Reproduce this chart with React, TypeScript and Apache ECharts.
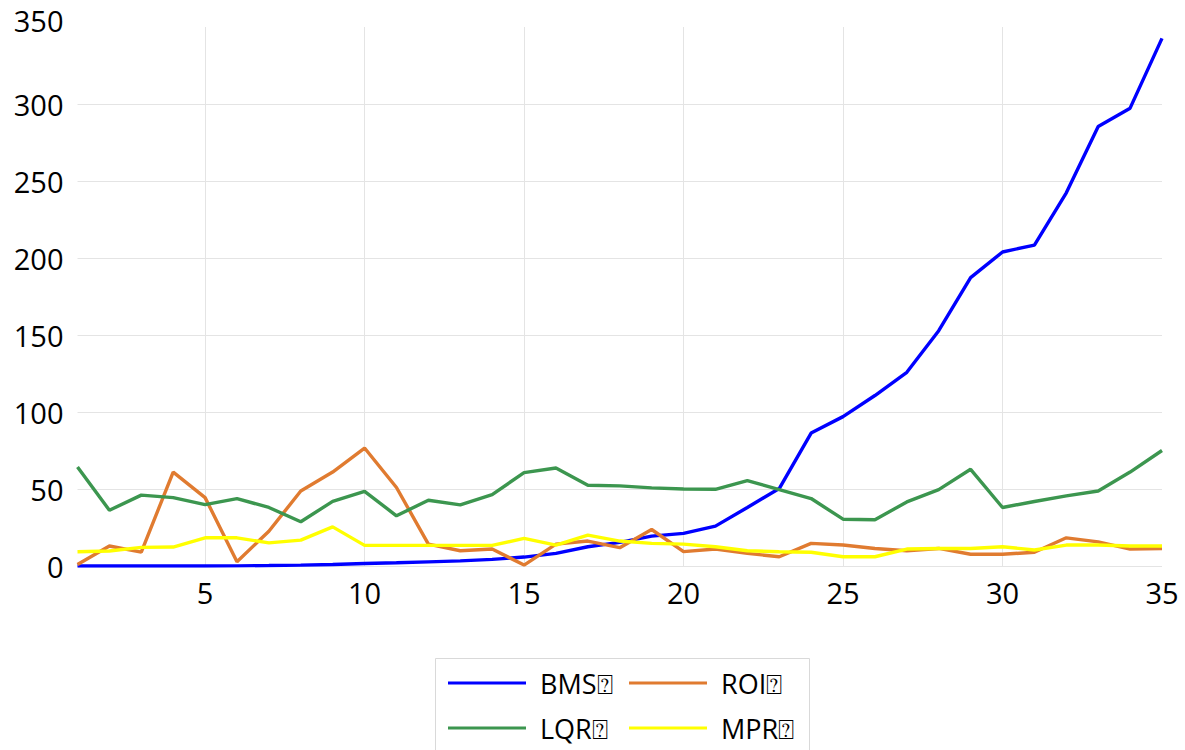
import React, { useEffect, useRef } from "react";
import * as echarts from "echarts";

const categories = Array.from({ length: 35 }, (_, i) => String(i + 1));
const seriesNames = ["BMS\u2370", "ROI\u2370", "LQR\u2370", "MPR\u2370"];
const bms = [0, 0, 0, 0, 0, 0.1, 0.3, 0.6, 1.0, 1.6, 2.1, 2.7, 3.3, 4.3, 5.8, 8.2, 12.5, 15.3, 19.4, 21.2, 25.9, 38, 50.3, 86.3, 97, 110.7, 125.8, 152.8, 187.3, 203.9, 208.4, 242.3, 285.4, 297.3, 342.6];
const roi = [1, 13, 9, 61, 44.4, 2.8, 22.6, 48.7, 61, 76.6, 51, 14.2, 9.9, 11, 0.6, 14.2, 16.2, 11.9, 23.7, 9.3, 11, 8.2, 6, 14.7, 13.6, 11.4, 9.9, 11.4, 7.6, 7.6, 8.9, 18.3, 15.7, 11, 11.4];
const lqr = [64.3, 36.2, 46, 44.4, 39.9, 43.8, 38, 28.7, 42, 48.5, 32.6, 42.7, 39.7, 46.4, 60.6, 63.6, 52.4, 52, 50.7, 50, 49.8, 55.5, 49.6, 43.8, 30.4, 30, 41.6, 49.6, 62.8, 38, 41.9, 45.5, 48.7, 61, 75];
const mpr = [9.3, 9.7, 12.1, 12.3, 18.3, 18.3, 15, 16.8, 25.4, 13.4, 13.4, 13.4, 13.4, 13.4, 17.9, 13.6, 20.1, 16.2, 14.7, 14.2, 12.5, 9.9, 9.3, 8.9, 6, 6, 11, 11.4, 11.4, 12.5, 10.4, 13.6, 13.6, 13, 13];
const colors = ["#0000FF", "#E07B30", "#3C964F", "#FFFF00"];
const yTicks = { min: 0, max: 350, interval: 50 };

const FONT = "'Open Sans', 'DejaVu Sans', sans-serif";
const GRID = "#e4e4e4";

export default function App() {
  const ref = useRef<HTMLDivElement>(null);
  useEffect(() => {
    if (!ref.current) return;
    const chart = echarts.init(ref.current, undefined, { renderer: "svg" });
    const showFive = (idx: number, val: string) => Number(val) % 5 === 0;
    const dataSets = [bms, roi, lqr, mpr];
    const legendBase = {
      orient: "vertical",
      top: 668,
      padding: 0,
      icon: "rect",
      itemWidth: 78,
      itemHeight: 3,
      itemGap: 15,
      textStyle: { color: "#000", fontSize: 27, fontFamily: FONT, lineHeight: 30, padding: [0, 0, 0, 9] },
    };
    chart.setOption({
      animation: false,
      backgroundColor: "#ffffff",
      grid: { left: 77.5, right: 23, top: 27, bottom: 184, containLabel: false },
      xAxis: {
        type: "category",
        data: categories,
        boundaryGap: false,
        axisLine: { show: false },
        axisTick: { show: false },
        axisLabel: {
          interval: showFive,
          color: "#000",
          fontSize: 29,
          fontFamily: FONT,
          margin: 12,
        },
        splitLine: {
          show: true,
          interval: (idx: number, val: string) => Number(val) % 5 === 0 && Number(val) !== 35,
          lineStyle: { color: GRID, width: 1 },
        },
      },
      yAxis: {
        type: "value",
        min: yTicks.min,
        max: yTicks.max,
        interval: yTicks.interval,
        axisLine: { show: false },
        axisTick: { show: false },
        axisLabel: {
          color: "#000",
          fontSize: 29,
          fontFamily: FONT,
          margin: 14,
          formatter: (v: number) => (v === yTicks.max ? "{t|" + v + "}" : String(v)),
          rich: { t: { color: "#000", fontSize: 29, fontFamily: FONT, padding: [0, 0, 14, 0] } },
        },
        splitLine: {
          show: true,
          lineStyle: {
            color: [GRID, GRID, GRID, GRID, GRID, GRID, GRID, "rgba(0,0,0,0)"],
            width: 1,
          },
        },
      },
      legend: [
        { ...legendBase, data: [seriesNames[0], seriesNames[2]], left: 448 },
        { ...legendBase, data: [seriesNames[1], seriesNames[3]], left: 629 },
      ],
      graphic: [
        {
          type: "rect",
          left: 433,
          top: 656,
          shape: { width: 374, height: 120 },
          style: { fill: "none", stroke: "#d9d9d9", lineWidth: 1 },
          silent: true,
          z: -1,
        },
      ],
      series: dataSets.map((d, i) => ({
        name: seriesNames[i],
        type: "line",
        data: d,
        symbol: "none",
        lineStyle: { color: colors[i], width: 3.4 },
        itemStyle: { color: colors[i] },
      })),
    });
    return () => chart.dispose();
  }, []);
  return (
    <div
      ref={ref}
      style={{ position: "fixed", left: 0, top: 0, width: 1185, height: 750 }}
    />
  );
}
